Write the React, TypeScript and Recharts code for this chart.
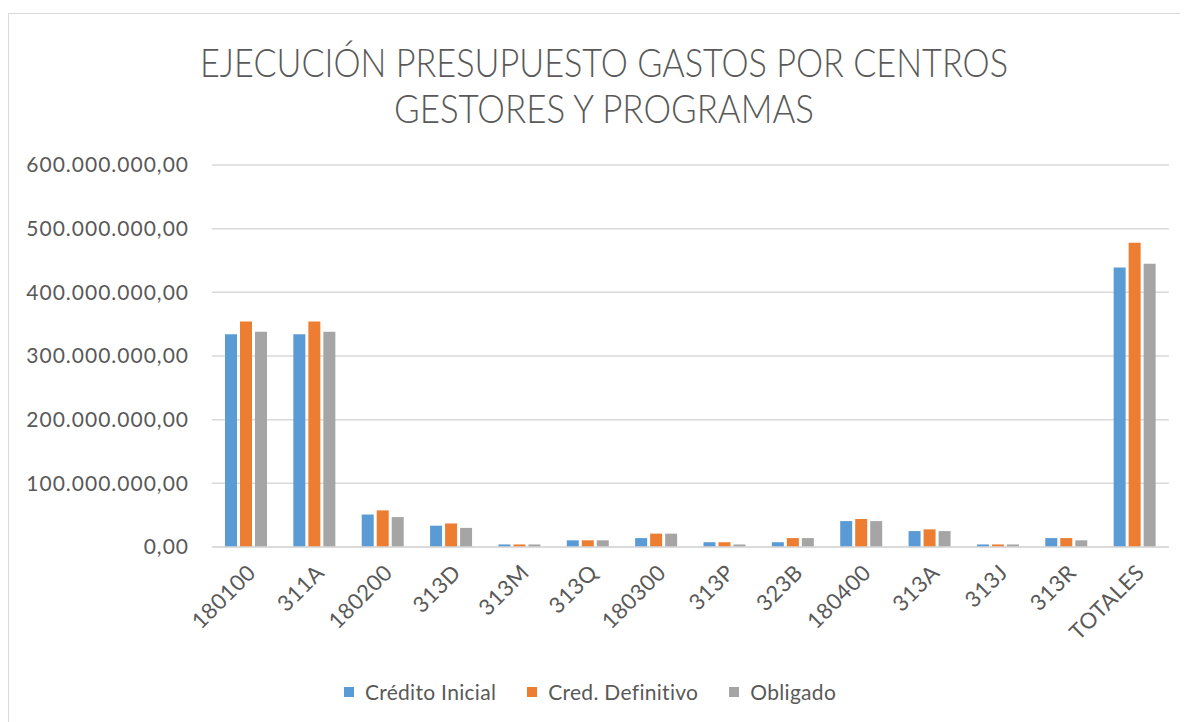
import { BarChart, Bar, XAxis, YAxis, CartesianGrid } from "recharts"

const categories = [
  "180100", "311A", "180200", "313D", "313M", "313Q", "180300",
  "313P", "323B", "180400", "313A", "313J", "313R", "TOTALES",
]

// millones de euros
const creditoInicial = [334, 334, 51, 33.5, 4, 10.5, 14, 7.5, 7.5, 40.7, 25, 4, 14, 439]
const credDefinitivo = [354, 354, 57.5, 37, 4, 10.5, 21, 7.5, 14, 44, 27.7, 4, 14, 478]
const obligado = [338, 338, 47, 30, 4, 10.5, 21, 4, 14, 40.7, 25, 4, 10.5, 445]

const yTicks = [0, 100e6, 200e6, 300e6, 400e6, 500e6, 600e6]

const series = [
  { key: "credito", name: "Crédito Inicial", color: "#5B9BD5" },
  { key: "definitivo", name: "Cred. Definitivo", color: "#ED7D31" },
  { key: "obligado", name: "Obligado", color: "#A5A5A5" },
]

const titleLines = ["EJECUCIÓN PRESUPUESTO GASTOS POR CENTROS", "GESTORES Y PROGRAMAS"]

const FONT = "Lato, 'Open Sans', sans-serif"
const TEXT = "#595959"
const GRID = "#D9D9D9"

const data = categories.map((c, i) => ({
  name: c,
  credito: creditoInicial[i] * 1e6,
  definitivo: credDefinitivo[i] * 1e6,
  obligado: obligado[i] * 1e6,
}))

function formatEs(v: number): string {
  const int = Math.round(v).toString().replace(/\B(?=(\d{3})+(?!\d))/g, ".")
  return int + ",00"
}

export default function App() {
  return (
    <div style={{ position: "relative", width: 1180, height: 714, fontFamily: FONT }}>
      <div style={{
        position: "absolute",
        top: 5,
        left: 0,
        width: 1171,
        height: 708,
        borderTop: `1px solid ${GRID}`,
        borderLeft: `1px solid ${GRID}`,
        background: "white",
      }}>
        <svg width={1171} height={130} style={{ position: "absolute", left: 0, top: 0 }}>
          <text x={595} y={63} textAnchor="middle" fontSize={40} fontWeight={300} fill={TEXT} fontFamily={FONT}
            textLength={808} lengthAdjust="spacingAndGlyphs">
            {titleLines[0]}
          </text>
          <text x={595} y={109} textAnchor="middle" fontSize={40} fontWeight={300} fill={TEXT} fontFamily={FONT}
            textLength={420} lengthAdjust="spacingAndGlyphs">
            {titleLines[1]}
          </text>
        </svg>

        <div style={{ position: "absolute", left: 0, top: 0 }}>
          <BarChart
            width={1171}
            height={708}
            data={data}
            margin={{ top: 151, right: 11, left: 0, bottom: 75 }}
            barSize={12}
            barGap={3}
          >
            <CartesianGrid vertical={false} stroke={GRID} strokeWidth={1.5} />
            <XAxis
              dataKey="name"
              interval={0}
              height={100}
              axisLine={{ stroke: GRID, strokeWidth: 1.5 }}
              tickLine={false}
              angle={-45}
              textAnchor="end"
              tickMargin={10}
              tick={{ fill: TEXT, fontSize: 22, fontFamily: FONT, letterSpacing: 0.5 }}
            />
            <YAxis
              width={203}
              domain={[0, 600e6]}
              ticks={yTicks}
              tickFormatter={formatEs}
              axisLine={false}
              tickLine={false}
              tickSize={0}
              tickMargin={23}
              tick={{ fill: TEXT, fontSize: 21, fontFamily: FONT, letterSpacing: 1 }}
            />
            {series.map((s) => (
              <Bar key={s.key} dataKey={s.key} name={s.name} fill={s.color} isAnimationActive={false} />
            ))}
          </BarChart>
        </div>

        <div style={{
          position: "absolute",
          top: 665,
          left: 281,
          width: 600,
          display: "flex",
          justifyContent: "center",
          alignItems: "center",
          gap: 31,
          fontSize: 21,
          letterSpacing: 0.3,
          color: TEXT,
          whiteSpace: "nowrap",
        }}>
          {series.map((s) => (
            <div key={s.key} style={{ display: "flex", alignItems: "center" }}>
              <span style={{ width: 10, height: 10, background: s.color, marginRight: 11, display: "inline-block" }} />
              <span>{s.name}</span>
            </div>
          ))}
        </div>
      </div>
    </div>
  )
}
